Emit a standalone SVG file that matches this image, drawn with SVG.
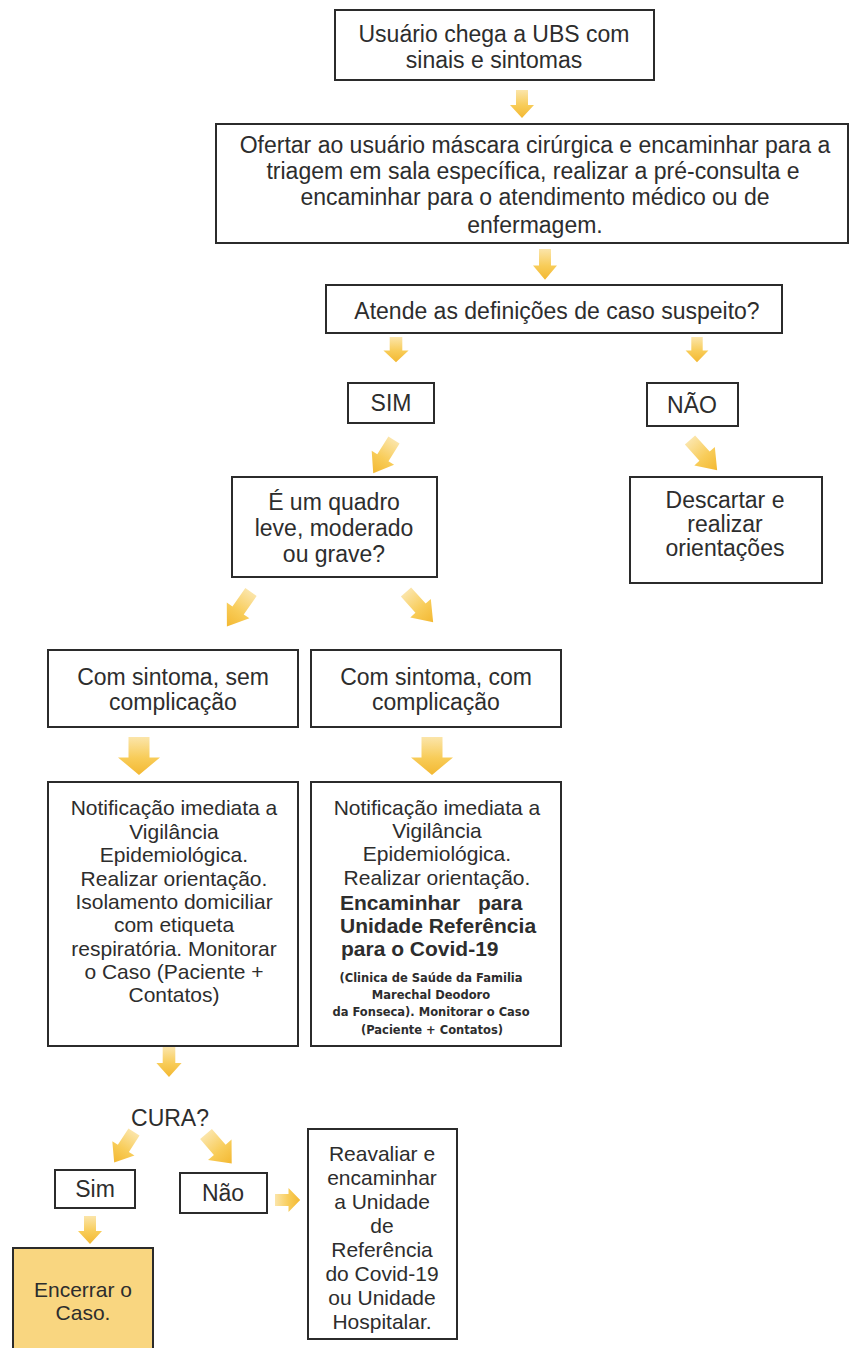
<svg xmlns="http://www.w3.org/2000/svg" width="850" height="1348" viewBox="0 0 850 1348">
<style>
.box{fill:#fff;stroke:#2b2b2b;stroke-width:2}
.fill{fill:#F9D680}
.t{font-family:"Liberation Sans",Arial,sans-serif;font-size:23px;fill:#2d2d2d;text-anchor:middle}
.m{font-size:21px}
.b{font-weight:bold}
.s{font-family:"DejaVu Sans",Verdana,sans-serif;font-size:11.5px;font-weight:bold;fill:#2d2d2d;text-anchor:middle}
.arr{fill:url(#ag)}
</style>
<defs>
<linearGradient id="ag" x1="0" y1="0" x2="0" y2="1">
<stop offset="0" stop-color="#FBE5AA"/>
<stop offset="0.55" stop-color="#F8CC58"/>
<stop offset="1" stop-color="#F3B832"/>
</linearGradient>
<path id="arrow" d="M-6,0 H6 V15 H12 L0,28 L-12,15 H-6 Z"/>
</defs>
<rect width="850" height="1348" fill="#fff"/>

<g id="connectors">
<use href="#arrow" class="arr" transform="translate(522,90)"/>
<use href="#arrow" class="arr" transform="translate(545,249) scale(1,1.1)"/>
<use href="#arrow" class="arr" transform="translate(396,337) scale(1.05,0.9)"/>
<use href="#arrow" class="arr" transform="translate(697,337) scale(0.95,0.9)"/>
<use href="#arrow" class="arr" transform="translate(394,440) rotate(32) scale(1.1,1.4)"/>
<use href="#arrow" class="arr" transform="translate(690,440) rotate(-42) scale(1.15,1.45)"/>
<use href="#arrow" class="arr" transform="translate(251,592) rotate(35) scale(1.15,1.5)"/>
<use href="#arrow" class="arr" transform="translate(406,592) rotate(-42) scale(1.15,1.45)"/>
<use href="#arrow" class="arr" transform="translate(139,737) scale(1.75,1.36)"/>
<use href="#arrow" class="arr" transform="translate(432,737) scale(1.75,1.36)"/>
<use href="#arrow" class="arr" transform="translate(169,1047) scale(1.05,1.07)"/>
<use href="#arrow" class="arr" transform="translate(134,1132) rotate(33) scale(1.1,1.3)"/>
<use href="#arrow" class="arr" transform="translate(206,1134) rotate(-41) scale(1.3,1.4)"/>
<use href="#arrow" class="arr" transform="translate(275,1200) rotate(-90) scale(1,0.9)"/>
<use href="#arrow" class="arr" transform="translate(90,1216)"/>
</g>

<g id="n1">
<rect class="box" x="335" y="10" width="319" height="70"/>
<text class="t" x="494" y="42">Usuário chega a UBS com</text>
<text class="t" x="494" y="68">sinais e sintomas</text>
</g>

<g id="n2">
<rect class="box" x="216" y="124" width="632" height="119"/>
<text class="t" x="535" y="153">Ofertar ao usuário máscara cirúrgica e encaminhar para a</text>
<text class="t" x="533" y="179">triagem em sala específica, realizar a pré-consulta e</text>
<text class="t" x="535" y="205">encaminhar para o atendimento médico ou de</text>
<text class="t" x="535" y="233">enfermagem.</text>
</g>

<g id="n3">
<rect class="box" x="326" y="285" width="456" height="48"/>
<text class="t" x="557" y="319">Atende as definições de caso suspeito?</text>
</g>

<g id="sim">
<rect class="box" x="348" y="383" width="86" height="40"/>
<text class="t" x="391" y="411">SIM</text>
</g>

<g id="nao">
<rect class="box" x="647" y="383" width="91" height="43"/>
<text class="t" x="692" y="413">NÃO</text>
</g>

<g id="quadro">
<rect class="box" x="232" y="477" width="205" height="100"/>
<text class="t" x="334" y="510">É um quadro</text>
<text class="t" x="334" y="536">leve, moderado</text>
<text class="t" x="334" y="562">ou grave?</text>
</g>

<g id="descartar">
<rect class="box" x="630" y="477" width="192" height="106"/>
<text class="t" x="725" y="508">Descartar e</text>
<text class="t" x="725" y="532">realizar</text>
<text class="t" x="725" y="556">orientações</text>
</g>

<g id="semcomp">
<rect class="box" x="48" y="650" width="250" height="77"/>
<text class="t" x="173" y="685">Com sintoma, sem</text>
<text class="t" x="173" y="710">complicação</text>
</g>

<g id="comcomp">
<rect class="box" x="311" y="650" width="250" height="77"/>
<text class="t" x="436" y="685">Com sintoma, com</text>
<text class="t" x="436" y="710">complicação</text>
</g>

<g id="notif1">
<rect class="box" x="48" y="782" width="250" height="264"/>
<text class="t m" x="174" y="815">Notificação imediata a</text>
<text class="t m" x="174" y="839">Vigilância</text>
<text class="t m" x="174" y="862">Epidemiológica.</text>
<text class="t m" x="174" y="886">Realizar orientação.</text>
<text class="t m" x="174" y="909">Isolamento domiciliar</text>
<text class="t m" x="174" y="932">com etiqueta</text>
<text class="t m" x="174" y="956">respiratória. Monitorar</text>
<text class="t m" x="174" y="979">o Caso (Paciente +</text>
<text class="t m" x="174" y="1002">Contatos)</text>
</g>

<g id="notif2">
<rect class="box" x="311" y="782" width="250" height="264"/>
<text class="t m" x="437" y="815">Notificação imediata a</text>
<text class="t m" x="437" y="838">Vigilância</text>
<text class="t m" x="437" y="861">Epidemiológica.</text>
<text class="t m" x="437" y="885">Realizar orientação.</text>
<text class="t m b" x="340" y="910" style="text-anchor:start" word-spacing="12">Encaminhar para</text>
<text class="t m b" x="340" y="933" style="text-anchor:start">Unidade Referência</text>
<text class="t m b" x="341" y="956" style="text-anchor:start">para o Covid-19</text>
<text class="s" x="431" y="982">(Clinica de Saúde da Familia</text>
<text class="s" x="431" y="999">Marechal Deodoro</text>
<text class="s" x="431" y="1016">da Fonseca). Monitorar o Caso</text>
<text class="s" x="432" y="1034">(Paciente + Contatos)</text>
</g>

<g id="cura">
<text class="t" x="170" y="1126">CURA?</text>
</g>

<g id="simcura">
<rect class="box" x="55" y="1170" width="80" height="38"/>
<text class="t" x="95" y="1197">Sim</text>
</g>

<g id="naocura">
<rect class="box" x="180" y="1173" width="87" height="40"/>
<text class="t" x="223" y="1201">Não</text>
</g>

<g id="reavaliar">
<rect class="box" x="308" y="1129" width="149" height="210"/>
<text class="t m" x="382" y="1161">Reavaliar e</text>
<text class="t m" x="382" y="1185">encaminhar</text>
<text class="t m" x="382" y="1209">a Unidade</text>
<text class="t m" x="382" y="1233">de</text>
<text class="t m" x="382" y="1257">Referência</text>
<text class="t m" x="382" y="1281">do Covid-19</text>
<text class="t m" x="382" y="1305">ou Unidade</text>
<text class="t m" x="382" y="1329">Hospitalar.</text>
</g>

<g id="encerrar">
<rect class="box fill" x="13" y="1248" width="140" height="110"/>
<text class="t m" x="83" y="1297">Encerrar o</text>
<text class="t m" x="83" y="1320">Caso.</text>
</g>
</svg>
